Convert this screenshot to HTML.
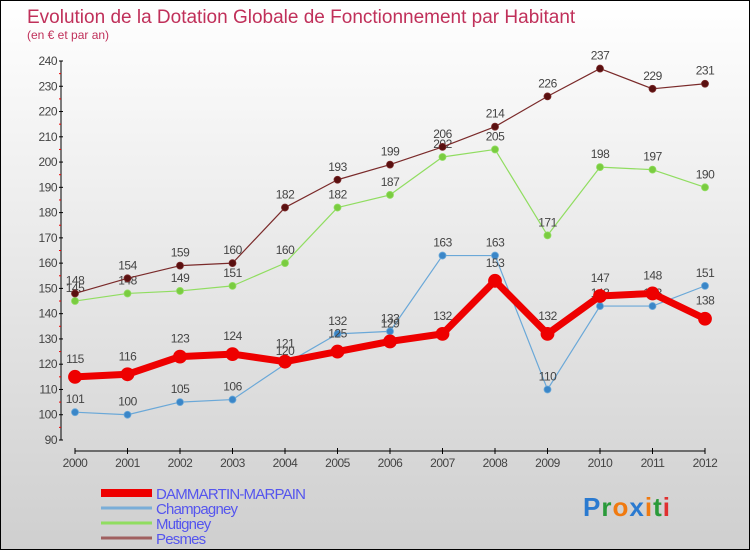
<!DOCTYPE html>
<html><head><meta charset="utf-8"><style>
html,body{margin:0;padding:0}
body{width:750px;height:550px;overflow:hidden;font-family:"Liberation Sans",sans-serif}
#wrap{position:relative;width:748px;height:548px;border:1px solid #000;background:linear-gradient(#ffffff,#cfcfcf)}
</style></head><body>
<div id="wrap">
<svg id="chart" width="748" height="548"></svg>
</div>
<script>
const years=[2000,2001,2002,2003,2004,2005,2006,2007,2008,2009,2010,2011,2012];
const dammartin=[115,116,123,124,121,125,129,132,153,132,147,148,138];
const champagney=[101,100,105,106,120,132,133,163,163,110,143,143,151];
const mutigney=[145,148,149,151,160,182,187,202,205,171,198,197,190];
const pesmes=[148,154,159,160,182,193,199,206,214,226,237,229,231];
const yTicks=[90,100,110,120,130,140,150,160,170,180,190,200,210,220,230,240];
const seriesNames=["DAMMARTIN-MARPAIN","Champagney","Mutigney","Pesmes"];

const NS="http://www.w3.org/2000/svg";
const svg=document.getElementById('chart');
function xS(i){return 74+i*(704-74)/(years.length-1);}
function yS(v){return 439-(v-90)*(379/150);}
function mk(tag,attrs,parent){const e=document.createElementNS(NS,tag);for(const k in attrs)e.setAttribute(k,attrs[k]);(parent||svg).appendChild(e);return e;}
function txt(s,attrs){const t=mk('text',attrs);t.textContent=s;return t;}

const title=txt("Evolution de la Dotation Globale de Fonctionnement par Habitant",{x:26,y:22,'font-size':19,fill:'#c0305a'});


const sub=txt("(en € et par an)",{x:26,y:38,'font-size':12,fill:'#c0305a'});



// axes
const ya=mk('line',{x1:60,y1:yS(240),x2:60,y2:yS(90),stroke:'#000','stroke-width':1});


yTicks.forEach((v,i)=>{
  mk('line',{x1:58,x2:62,y1:yS(v),y2:yS(v),stroke:'#000'});
  if(i<yTicks.length-1)mk('line',{x1:58,x2:60,y1:yS(v+5),y2:yS(v+5),stroke:'#e00'});
  const t=txt(String(v),{x:56,y:yS(v)+4,'font-size':12,fill:'#444','text-anchor':'end','letter-spacing':'-0.5'});
  
  
});
const xa=mk('line',{x1:74,y1:450,x2:704,y2:450,stroke:'#000'});


years.forEach((y,i)=>{
  mk('line',{x1:xS(i),x2:xS(i),y1:447,y2:453,stroke:'#000'});
  const t=txt(String(y),{x:xS(i),y:466,'font-size':12,fill:'#444','text-anchor':'middle','letter-spacing':'-0.5'});
  
  
});

function series(data,color,dot,w,r,name,labelOff){
  const g=mk('g',{});
  
  
  mk('polyline',{points:data.map((v,i)=>xS(i)+','+yS(v)).join(' '),fill:'none',stroke:color,'stroke-width':w,'stroke-linejoin':'round'},g);
  data.forEach((v,i)=>{
    const c=mk('circle',{cx:xS(i),cy:yS(v),r:r,fill:dot,stroke:color,'stroke-width':0.8},g);
    
    
    const t=mk('text',{x:xS(i),y:yS(v)+labelOff,'font-size':12,fill:'#444','text-anchor':'middle','letter-spacing':'-0.5'},g);
    t.textContent=v;
  });
}
series(champagney,'#6aa8d8','#3a86c8',1.2,3.5,'series-champagney',-9);
series(mutigney,'#90dd60','#7acc40',1.2,3.5,'series-mutigney',-9);
series(pesmes,'#7a2a2a','#5a1010',1.2,3.5,'series-pesmes',-9);
series(dammartin,'#ee0000','#ee0000',7,6.5,'series-dammartin',-14);

// legend
const legColors=['#ee0000','#7aaed8','#90dd60','#a06060'];
const legW=[8,3,3,3];
seriesNames.forEach((n,i)=>{
  const y=496+i*15;
  const l=mk('line',{x1:100,x2:151,y1:y-4,y2:y-4,stroke:legColors[i],'stroke-width':legW[i]});
  
  
  const t=txt(n,{x:155,y:y+2,'font-size':15,fill:'#5555ee','letter-spacing':'-0.8'});
  
  
});
// logo
const logo=mk('text',{x:582,y:515,'font-size':26,'font-weight':'bold','letter-spacing':'1'});


[['P','#2a7ad0'],['r','#2a9a3a'],['o','#f07a10'],['x','#2a7ad0'],['i','#f07a10'],['t','#2a9a3a'],['i','#e03030']].forEach(([c,col])=>{
  const s=mk('tspan',{fill:col},logo);s.textContent=c;
});
</script>
</body></html>
